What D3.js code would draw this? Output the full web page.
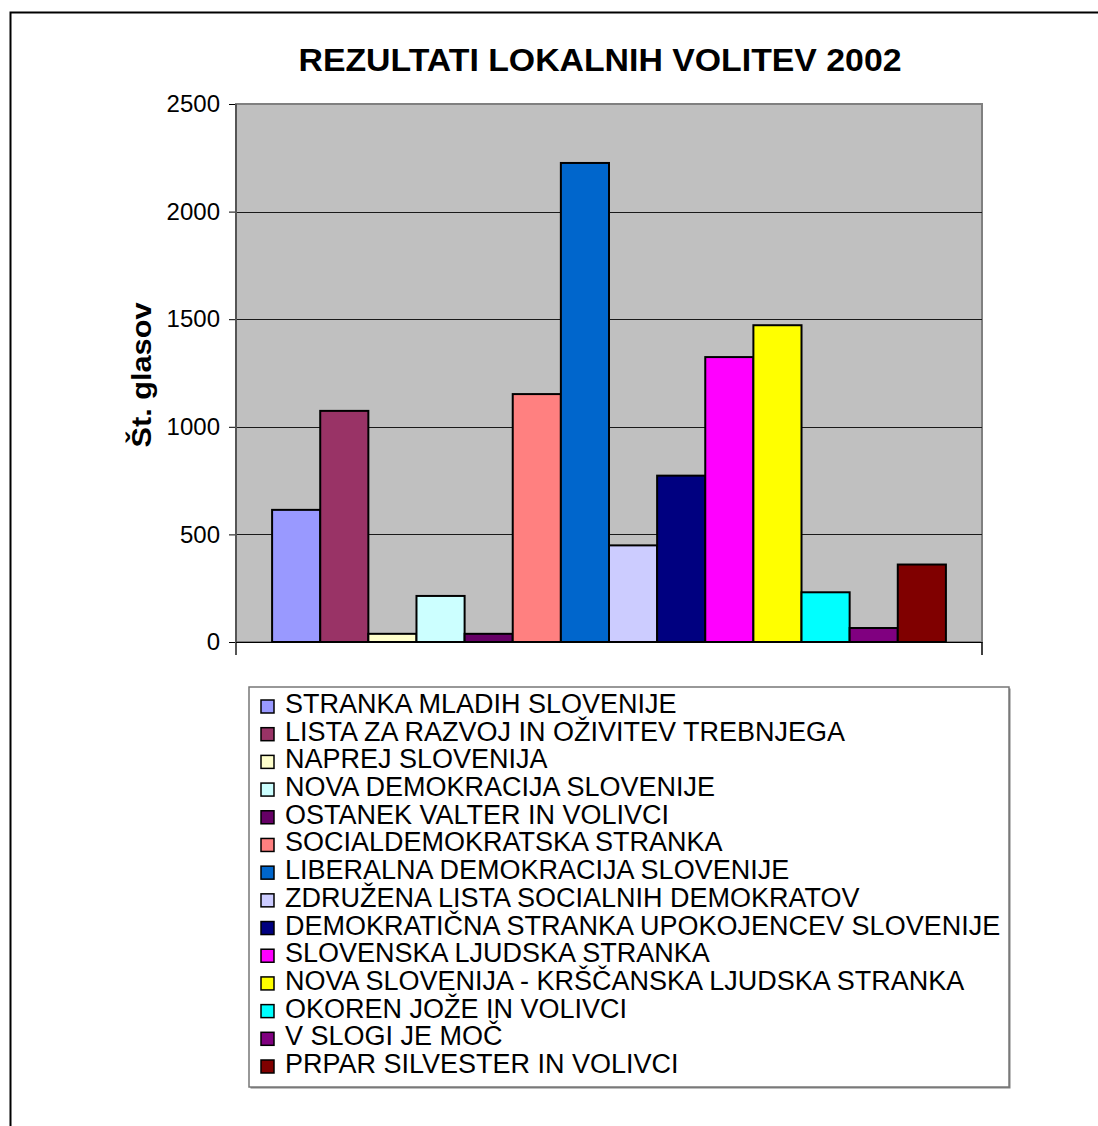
<!DOCTYPE html>
<html>
<head>
<meta charset="utf-8">
<script src="https://cdn.jsdelivr.net/npm/d3@7"></script>
<style>
  html, body { margin: 0; padding: 0; background: #fff; }
  svg { display: block; }
  text { font-family: "Liberation Sans", Arial, sans-serif; }
</style>
</head>
<body>
<script>
const title = "REZULTATI LOKALNIH VOLITEV 2002";
const yAxisTitle = "Št. glasov";
const parties = [
  "STRANKA MLADIH SLOVENIJE",
  "LISTA ZA RAZVOJ IN OŽIVITEV TREBNJEGA",
  "NAPREJ SLOVENIJA",
  "NOVA DEMOKRACIJA SLOVENIJE",
  "OSTANEK VALTER IN VOLIVCI",
  "SOCIALDEMOKRATSKA STRANKA",
  "LIBERALNA DEMOKRACIJA SLOVENIJE",
  "ZDRUŽENA LISTA SOCIALNIH DEMOKRATOV",
  "DEMOKRATIČNA STRANKA UPOKOJENCEV SLOVENIJE",
  "SLOVENSKA LJUDSKA STRANKA",
  "NOVA SLOVENIJA - KRŠČANSKA LJUDSKA STRANKA",
  "OKOREN JOŽE IN VOLIVCI",
  "V SLOGI JE MOČ",
  "PRPAR SILVESTER IN VOLIVCI"
];
const votes = [614, 1074, 38, 214, 38, 1152, 2226, 449, 773, 1324, 1472, 231, 65, 360];
const colors = ["#9999FF", "#993366", "#FFFFCC", "#CCFFFF", "#660066", "#FF8080", "#0066CC",
                "#CCCCFF", "#000080", "#FF00FF", "#FFFF00", "#00FFFF", "#800080", "#800000"];
const yTicks = [0, 500, 1000, 1500, 2000, 2500];

const W = 1098, H = 1126;
const svg = d3.select("body").append("svg").attr("width", W).attr("height", H);

// outer chart border
svg.append("rect").attr("x", 10.5).attr("y", 12.5).attr("width", 1200).attr("height", 1200)
  .attr("fill", "#fff").attr("stroke", "#000").attr("stroke-width", 2);

const plot = { left: 236, right: 982, top: 104, bottom: 642 };

const x = d3.scaleBand().domain(parties).range([plot.left, plot.right])
  .paddingInner(0).paddingOuter(0.75);
const y = d3.scaleLinear().domain([0, 2500]).range([plot.bottom, plot.top]);

// plot area
svg.append("rect").attr("x", plot.left).attr("y", plot.top)
  .attr("width", plot.right - plot.left).attr("height", plot.bottom - plot.top)
  .attr("fill", "#C0C0C0").attr("stroke", "#808080").attr("stroke-width", 2);

// gridlines
svg.append("g").selectAll("line").data(yTicks.filter(d => d > 0 && d < 2500)).join("line")
  .attr("x1", plot.left).attr("x2", plot.right)
  .attr("y1", d => Math.round(y(d)) + 0.5).attr("y2", d => Math.round(y(d)) + 0.5)
  .attr("stroke", "#1a1a1a").attr("stroke-width", 1);

// bars
svg.append("g").selectAll("rect").data(parties).join("rect")
  .attr("x", d => x(d)).attr("width", x.bandwidth())
  .attr("y", (d, i) => y(votes[i])).attr("height", (d, i) => y(0) - y(votes[i]))
  .attr("fill", (d, i) => colors[i]).attr("stroke", "#000").attr("stroke-width", 2);

// y axis
const yAxis = d3.axisLeft(y).tickValues(yTicks).tickSize(7).tickPadding(9).tickFormat(d3.format("d"));
const gy = svg.append("g").attr("transform", `translate(${plot.left},0)`).call(yAxis);
gy.select(".domain").remove();
gy.selectAll(".tick line").attr("stroke", "#000").attr("stroke-width", 1);
gy.selectAll(".tick text").attr("font-size", 24).attr("fill", "#000")
  .style("font-family", "'Liberation Sans', Arial, sans-serif");
svg.append("line").attr("x1", plot.left).attr("x2", plot.left)
  .attr("y1", plot.top).attr("y2", 655).attr("stroke", "#555").attr("stroke-width", 2);

// x axis baseline and end ticks
svg.append("line").attr("x1", plot.left).attr("x2", plot.right)
  .attr("y1", plot.bottom + 0.5).attr("y2", plot.bottom + 0.5).attr("stroke", "#000").attr("stroke-width", 1);
svg.append("line").attr("x1", plot.right).attr("x2", plot.right)
  .attr("y1", plot.bottom).attr("y2", 655).attr("stroke", "#000").attr("stroke-width", 1.5);

// title
svg.append("text").attr("x", 600).attr("y", 71).attr("text-anchor", "middle")
  .attr("font-size", 32).attr("font-weight", "bold").attr("fill", "#000")
  .attr("textLength", 603).attr("lengthAdjust", "spacingAndGlyphs")
  .text(title);

// y axis title
svg.append("text").attr("transform", "translate(151,375) rotate(-90)")
  .attr("text-anchor", "middle").attr("font-size", 28).attr("font-weight", "bold")
  .attr("fill", "#000").attr("textLength", 145).attr("lengthAdjust", "spacingAndGlyphs")
  .text(yAxisTitle);

// legend
const lg = { x: 249, y: 687, w: 760, h: 400 };
svg.append("rect").attr("x", lg.x + 1.5).attr("y", lg.y + 1.5).attr("width", lg.w).attr("height", lg.h)
  .attr("fill", "#808080");
svg.append("rect").attr("x", lg.x).attr("y", lg.y).attr("width", lg.w).attr("height", lg.h)
  .attr("fill", "#fff").attr("stroke", "#777").attr("stroke-width", 1.5);

const rowY = d3.scalePoint().domain(parties).range([713, 1073]);
const items = svg.append("g").selectAll("g").data(parties).join("g")
  .attr("transform", d => `translate(0,${rowY(d)})`);
items.append("rect").attr("x", 261).attr("y", -13).attr("width", 13).attr("height", 13)
  .attr("fill", (d, i) => colors[i]).attr("stroke", "#000").attr("stroke-width", 1.5);
items.append("text").attr("x", 285).attr("y", 0).attr("font-size", 27).attr("fill", "#000")
  .text(d => d);
</script>
</body>
</html>
